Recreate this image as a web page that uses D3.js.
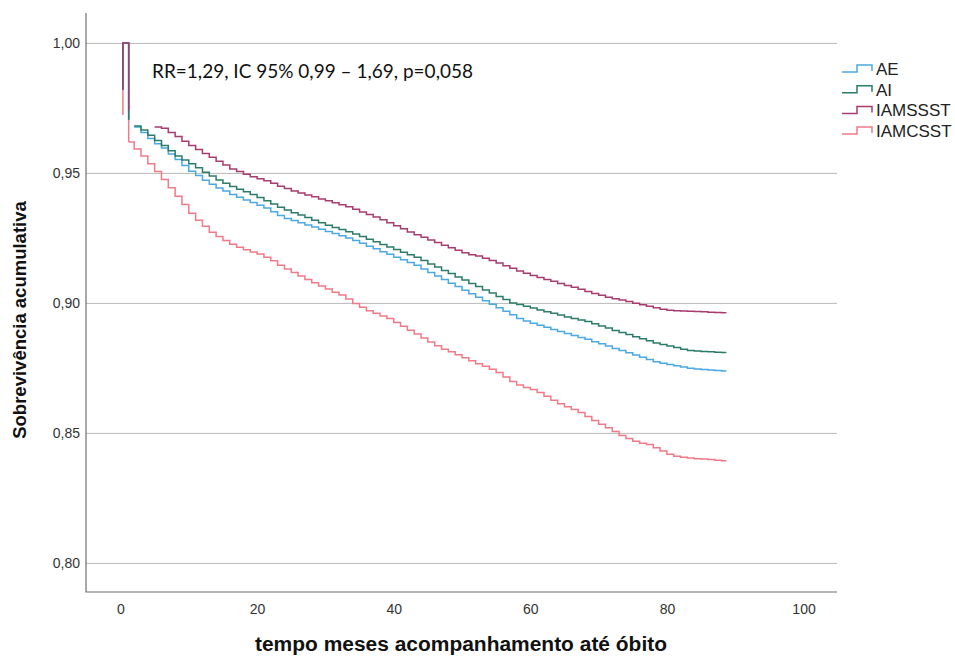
<!DOCTYPE html>
<html>
<head>
<meta charset="utf-8">
<script src="https://cdn.jsdelivr.net/npm/d3@7"></script>
<style>
  body { margin: 0; background: #fff; }
  svg { display: block; }
</style>
</head>
<body>
<svg id="chart" width="955" height="657"></svg>
<script>
// Kaplan-Meier survival by diagnosis group (cumulative survival per month)
const groups = ["AE", "AI", "IAMSSST", "IAMCSST"];

// Opening segment near time zero for each group: [month, survival]
const entryAE      = [[0.35, 0.982], [0.35, 1], [1.2, 1], [1.2, 0.9704]];
const entryAI      = [[0.35, 0.982], [0.35, 1], [1.2, 1], [1.2, 0.9704]];
const entryIAMSSST = [[0.35, 0.982], [0.35, 1], [1.2, 1], [1.2, 0.9740]];
const entryIAMCSST = [[0.35, 0.9723], [0.35, 1], [1.2, 1], [1.2, 0.9619]];

// First month of each monthly survival series and the last follow-up month
const firstMonth = [2, 2, 5, 2];
const lastMonth = 88.7;

const survAE = [
  0.9677, 0.9655, 0.9632, 0.9612, 0.9596, 0.9573, 0.9552, 0.9528, 0.9506, 0.9490,
  0.9472, 0.9456, 0.9442, 0.9430, 0.9417, 0.9406, 0.9396, 0.9386, 0.9376, 0.9365,
  0.9351, 0.9336, 0.9325, 0.9317, 0.9308, 0.9300, 0.9292, 0.9283, 0.9275, 0.9267,
  0.9258, 0.9250, 0.9240, 0.9229, 0.9218, 0.9208, 0.9197, 0.9187, 0.9176, 0.9166,
  0.9155, 0.9145, 0.9130, 0.9117, 0.9103, 0.9090, 0.9076, 0.9063, 0.9049, 0.9035,
  0.9022, 0.9008, 0.8995, 0.8981, 0.8968, 0.8954, 0.8940, 0.8930, 0.8922, 0.8914,
  0.8906, 0.8898, 0.8890, 0.8882, 0.8875, 0.8867, 0.8860, 0.8851, 0.8843, 0.8834,
  0.8825, 0.8817, 0.8808, 0.8800, 0.8791, 0.8782, 0.8774, 0.8768, 0.8763, 0.8758,
  0.8753, 0.8749, 0.8746, 0.8744, 0.8742, 0.8740, 0.8738
];

const survAI = [
  0.9680, 0.9665, 0.9645, 0.9625, 0.9605, 0.9585, 0.9565, 0.9550, 0.9535, 0.9520,
  0.9502, 0.9488, 0.9473, 0.9460, 0.9448, 0.9437, 0.9427, 0.9417, 0.9405, 0.9393,
  0.9380, 0.9368, 0.9357, 0.9347, 0.9338, 0.9328, 0.9318, 0.9308, 0.9299, 0.9290,
  0.9282, 0.9274, 0.9265, 0.9255, 0.9245, 0.9235, 0.9225, 0.9215, 0.9205, 0.9195,
  0.9185, 0.9176, 0.9163, 0.9150, 0.9138, 0.9125, 0.9113, 0.9100, 0.9088, 0.9075,
  0.9063, 0.9050, 0.9038, 0.9025, 0.9013, 0.9000, 0.8994, 0.8987, 0.8980, 0.8973,
  0.8966, 0.8960, 0.8953, 0.8946, 0.8940, 0.8934, 0.8928, 0.8920, 0.8911, 0.8903,
  0.8894, 0.8886, 0.8878, 0.8870, 0.8862, 0.8854, 0.8846, 0.8840, 0.8834, 0.8828,
  0.8822, 0.8817, 0.8815, 0.8813, 0.8812, 0.8810, 0.8809
];

const survIAMSSST = [
  0.9677, 0.9672, 0.9655, 0.9640, 0.9622, 0.9605, 0.9590, 0.9575, 0.9560, 0.9545,
  0.9530, 0.9515, 0.9505, 0.9495, 0.9485, 0.9477, 0.9470, 0.9460, 0.9449, 0.9440,
  0.9430, 0.9423, 0.9415, 0.9408, 0.9400, 0.9393, 0.9385, 0.9377, 0.9370, 0.9360,
  0.9350, 0.9340, 0.9330, 0.9320, 0.9308, 0.9297, 0.9285, 0.9273, 0.9262, 0.9252,
  0.9242, 0.9232, 0.9222, 0.9212, 0.9202, 0.9193, 0.9185, 0.9180, 0.9172, 0.9163,
  0.9153, 0.9143, 0.9133, 0.9123, 0.9114, 0.9105, 0.9098, 0.9090, 0.9083, 0.9075,
  0.9067, 0.9060, 0.9052, 0.9044, 0.9036, 0.9029, 0.9022, 0.9016, 0.9011, 0.9005,
  0.8999, 0.8993, 0.8987, 0.8981, 0.8976, 0.8972, 0.8970, 0.8969, 0.8968, 0.8967,
  0.8966, 0.8964, 0.8963, 0.8962
];

const survIAMCSST = [
  0.9592, 0.9565, 0.9535, 0.9505, 0.9475, 0.9443, 0.9410, 0.9378, 0.9345, 0.9318,
  0.9295, 0.9272, 0.9255, 0.9240, 0.9226, 0.9214, 0.9204, 0.9196, 0.9188, 0.9176,
  0.9162, 0.9145, 0.9130, 0.9117, 0.9103, 0.9090, 0.9077, 0.9065, 0.9053, 0.9041,
  0.9030, 0.9015, 0.8998, 0.8983, 0.8970, 0.8960, 0.8950, 0.8940, 0.8925, 0.8910,
  0.8895, 0.8880, 0.8865, 0.8850, 0.8835, 0.8822, 0.8812, 0.8801, 0.8789, 0.8777,
  0.8766, 0.8756, 0.8745, 0.8732, 0.8715, 0.8698, 0.8684, 0.8675, 0.8667, 0.8655,
  0.8641, 0.8626, 0.8612, 0.8601, 0.8590, 0.8578, 0.8563, 0.8548, 0.8533, 0.8520,
  0.8505, 0.8490, 0.8478, 0.8468, 0.8460, 0.8455, 0.8443, 0.8430, 0.8418, 0.8410,
  0.8406, 0.8403, 0.8401, 0.8400, 0.8398, 0.8395, 0.8393
];

const xTicks = [0, 20, 40, 60, 80, 100];
const yTicks = [0.80, 0.85, 0.90, 0.95, 1.00];
const annotation = "RR=1,29, IC 95% 0,99 \u2013 1,69, p=0,058";
const xTitle = "tempo meses acompanhamento até óbito";
const yTitle = "Sobrevivência acumulativa";

// Styling
const colors = ["#4aa8e2", "#2c7c6a", "#a83c6e", "#f07a88"];
const fontMain = "'Liberation Sans', Arial, Helvetica, sans-serif";

const series = [
  { name: groups[0], entry: entryAE, first: firstMonth[0], values: survAE, color: colors[0], joined: false },
  { name: groups[1], entry: entryAI, first: firstMonth[1], values: survAI, color: colors[1], joined: false },
  { name: groups[2], entry: entryIAMSSST, first: firstMonth[2], values: survIAMSSST, color: colors[2], joined: false },
  { name: groups[3], entry: entryIAMCSST, first: firstMonth[3], values: survIAMCSST, color: colors[3], joined: true }
];

const svg = d3.select("#chart");
const plot = { left: 86, right: 837, top: 13, bottom: 592 };

const x = d3.scaleLinear().domain([-5.05, 104.9]).range([plot.left, plot.right]);
const y = d3.scaleLinear().domain([0.7888, 1.0115]).range([plot.bottom, plot.top]);

// Horizontal reference lines
const grid = svg.append("g")
  .attr("transform", `translate(${plot.left},0)`)
  .call(d3.axisLeft(y).tickValues(yTicks).tickSize(-(plot.right - plot.left)).tickFormat(""));
grid.select(".domain").remove();
grid.selectAll("line").attr("stroke", "#b8b8b8").attr("stroke-width", 1);

// Y axis labels
const yAxis = svg.append("g")
  .attr("transform", `translate(${plot.left},0)`)
  .call(d3.axisLeft(y).tickValues(yTicks).tickSize(0).tickPadding(6)
    .tickFormat(d => d.toFixed(2).replace(".", ",")));
yAxis.select(".domain").remove();
yAxis.selectAll("text").attr("font-family", fontMain).attr("font-size", 14).attr("fill", "#333");

// X axis labels
const xAxis = svg.append("g")
  .attr("transform", `translate(0,${plot.bottom})`)
  .call(d3.axisBottom(x).tickValues(xTicks).tickSize(0).tickPadding(12).tickFormat(d3.format("d")));
xAxis.select(".domain").remove();
xAxis.selectAll("text").attr("font-family", fontMain).attr("font-size", 14).attr("fill", "#333");

// Axis frame (left and bottom)
svg.append("path")
  .attr("d", `M${plot.left},${plot.top}V${plot.bottom}H${plot.right}`)
  .attr("fill", "none").attr("stroke", "#707070").attr("stroke-width", 1.2);

// Survival curves
const stepLine = d3.line().x(d => x(d[0])).y(d => y(d[1])).curve(d3.curveStepAfter);
const plainLine = d3.line().x(d => x(d[0])).y(d => y(d[1]));

const drawOrder = [3, 0, 1, 2];
drawOrder.forEach(i => {
  const s = series[i];
  const pts = s.values.map((v, k) => [s.first + k, v]);
  pts.push([lastMonth, s.values[s.values.length - 1]]);
  if (s.joined) pts.unshift(s.entry[s.entry.length - 1]);
  svg.append("path")
    .attr("d", plainLine(s.entry))
    .attr("fill", "none").attr("stroke", s.color).attr("stroke-width", 1.5);
  svg.append("path")
    .attr("d", stepLine(pts))
    .attr("fill", "none").attr("stroke", s.color).attr("stroke-width", 1.5)
    .attr("stroke-linejoin", "miter");
});

// Hazard ratio annotation
svg.append("text")
  .attr("x", 152).attr("y", 78)
  .attr("font-family", "Lato, 'Open Sans', sans-serif")
  .attr("font-size", 20).attr("fill", "#111")
  .attr("textLength", 321).attr("lengthAdjust", "spacingAndGlyphs")
  .text(annotation);

// Legend
const legend = svg.append("g").attr("transform", "translate(842,69)");
series.forEach((s, i) => {
  const g = legend.append("g").attr("transform", `translate(0,${i * 20.7})`);
  g.append("path")
    .attr("d", "M0,3H15V-4H30V2")
    .attr("fill", "none").attr("stroke", s.color).attr("stroke-width", 1.5);
  g.append("text")
    .attr("x", 34).attr("y", 6)
    .attr("font-family", fontMain).attr("font-size", 17).attr("fill", "#222")
    .text(s.name);
});

// Axis titles
svg.append("text")
  .attr("x", 461).attr("y", 651)
  .attr("text-anchor", "middle")
  .attr("font-family", fontMain).attr("font-weight", "bold").attr("font-size", 20).attr("fill", "#111")
  .attr("textLength", 412).attr("lengthAdjust", "spacingAndGlyphs")
  .text(xTitle);

svg.append("text")
  .attr("transform", "translate(26,320) rotate(-90)")
  .attr("text-anchor", "middle")
  .attr("font-family", fontMain).attr("font-weight", "bold").attr("font-size", 18.5).attr("fill", "#111")
  .text(yTitle);
</script>
</body>
</html>
